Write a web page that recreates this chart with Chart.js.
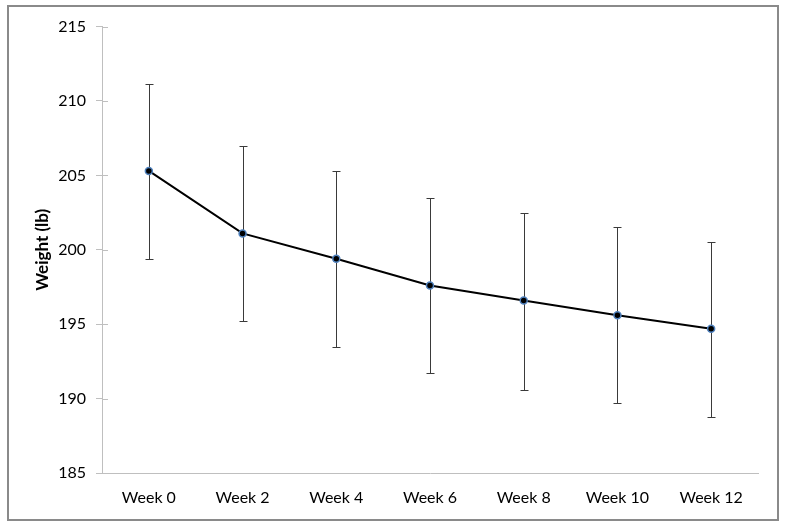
<!DOCTYPE html>
<html>
<head>
<meta charset="utf-8">
<script src="https://cdn.jsdelivr.net/npm/chart.js@4.4.1/dist/chart.umd.min.js"></script>
<style>
  html, body { margin: 0; padding: 0; background: #fff; }
  #box {
    position: absolute; left: 7px; top: 5px;
    width: 772px; height: 516px;
    box-sizing: border-box;
    border: 2px solid #8a8a8a;
  }
  #wrap { position: absolute; left: 0; top: 0; width: 768px; height: 512px; }
</style>
</head>
<body>
<div id="box"><div id="wrap"><canvas id="chart"></canvas></div></div>
<script>
const weeks = ["Week 0", "Week 2", "Week 4", "Week 6", "Week 8", "Week 10", "Week 12"];
const meanWeight = [205.3, 201.1, 199.4, 197.6, 196.6, 195.6, 194.7];
const upperWeight = [211.15, 207.0, 205.3, 203.5, 202.5, 201.5, 200.55];
const lowerWeight = [199.35, 195.2, 193.5, 191.7, 190.6, 189.7, 188.75];
const yTicks = [185, 190, 195, 200, 205, 210, 215];

const FONT = "Lato, 'Open Sans', sans-serif";

// error bars drawn through the y scale
const errorBars = {
  id: "errorBars",
  beforeDatasetsDraw(chart) {
    const ctx = chart.ctx;
    const x = chart.scales.x, y = chart.scales.y;
    ctx.save();
    ctx.strokeStyle = "#3a3a3a";
    ctx.lineWidth = 1;
    weeks.forEach((_, i) => {
      const px = Math.round(x.getPixelForValue(i)) + 0.5;
      const top = Math.round(y.getPixelForValue(upperWeight[i])) + 0.5;
      const bot = Math.round(y.getPixelForValue(lowerWeight[i])) + 0.5;
      ctx.beginPath();
      ctx.moveTo(px, top); ctx.lineTo(px, bot);
      ctx.moveTo(px - 4, top); ctx.lineTo(px + 4, top);
      ctx.moveTo(px - 4, bot); ctx.lineTo(px + 4, bot);
      ctx.stroke();
    });
    ctx.restore();
  }
};

// small tick marks crossing into the plot on the y axis
const innerTicks = {
  id: "innerTicks",
  afterDraw(chart) {
    const ctx = chart.ctx;
    const y = chart.scales.y;
    const left = chart.chartArea.left;
    ctx.save();
    ctx.strokeStyle = "#bfbfbf";
    ctx.lineWidth = 1;
    yTicks.forEach(v => {
      const py = Math.round(y.getPixelForValue(v)) + 0.5;
      ctx.beginPath();
      ctx.moveTo(left, py); ctx.lineTo(left + 6, py);
      ctx.stroke();
    });
    ctx.restore();
  }
};

new Chart(document.getElementById("chart"), {
  type: "line",
  data: {
    labels: weeks,
    datasets: [{
      data: meanWeight,
      borderColor: "#000",
      borderWidth: 2,
      tension: 0,
      pointRadius: 3.5,
      pointBackgroundColor: "#000",
      pointBorderColor: "#4f81bd",
      pointBorderWidth: 1.5
    }]
  },
  options: {
    responsive: true,
    maintainAspectRatio: false,
    animation: false,
    events: [],
    layout: { padding: { top: 19, right: 19, left: 0, bottom: 0 } },
    plugins: { legend: { display: false }, tooltip: { enabled: false } },
    scales: {
      x: {
        offset: true,
        afterFit(scale) { scale.height = 46; },
        grid: { display: false, drawTicks: false },
        border: { color: "#bfbfbf", width: 1 },
        ticks: { color: "#000", font: { family: FONT, size: 16 }, padding: 15, maxRotation: 0 }
      },
      y: {
        min: 185,
        max: 215,
        afterBuildTicks(scale) { scale.ticks = yTicks.map(v => ({ value: v })); },
        afterFit(scale) { scale.width = 93; },
        grid: { drawOnChartArea: false, tickLength: 6, color: "#bfbfbf" },
        border: { color: "#bfbfbf", width: 1 },
        ticks: { color: "#000", font: { family: FONT, size: 16 }, padding: 10 },
        title: {
          display: true,
          text: "Weight (lb)",
          color: "#000",
          font: { family: FONT, size: 17, weight: "bold" },
          padding: { top: 23, bottom: 0 }
        }
      }
    }
  },
  plugins: [errorBars, innerTicks]
});
</script>
</body>
</html>
